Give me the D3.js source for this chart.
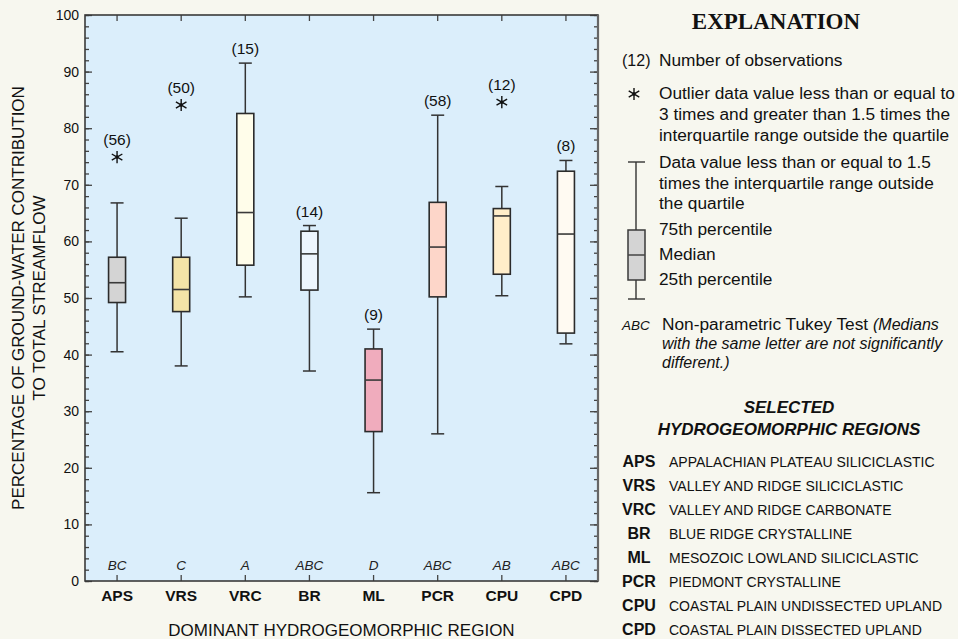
<!DOCTYPE html>
<html>
<head>
<meta charset="utf-8">
<script src="https://cdn.jsdelivr.net/npm/d3@7"></script>
<style>
  body { margin: 0; background: #f7f7ef; }
  svg { display: block; font-family: "Liberation Sans", Arial, sans-serif; }
</style>
</head>
<body>
<svg id="chart" width="958" height="639"></svg>
<script>
// Values
const regions = ['APS', 'VRS', 'VRC', 'BR', 'ML', 'PCR', 'CPU', 'CPD'];
const counts = [56, 50, 15, 14, 9, 58, 12, 8];
const whiskerLow = [40.5, 38.0, 50.2, 37.1, 15.6, 26.0, 50.4, 41.9];
const q1 = [49.2, 47.6, 55.8, 51.4, 26.4, 50.2, 54.2, 43.8];
const median = [52.7, 51.5, 65.1, 57.8, 35.5, 59.0, 64.5, 61.3];
const q3 = [57.2, 57.2, 82.6, 61.8, 41.0, 66.9, 65.8, 72.4];
const whiskerHigh = [66.8, 64.1, 91.5, 62.8, 44.5, 82.3, 69.7, 74.3];
const outliers = [74.9, 84.1, null, null, null, null, 84.6, null];
const tukey = ['BC', 'C', 'A', 'ABC', 'D', 'ABC', 'AB', 'ABC'];
const fills = ['#d4d4d4', '#f4e4a7', '#fffdea', '#edf5fd', '#f0acbd', '#fdd6c9', '#ffedc9', '#fffaf2'];
const regionNames = [
  'APPALACHIAN PLATEAU SILICICLASTIC',
  'VALLEY AND RIDGE SILICICLASTIC',
  'VALLEY AND RIDGE CARBONATE',
  'BLUE RIDGE CRYSTALLINE',
  'MESOZOIC LOWLAND SILICICLASTIC',
  'PIEDMONT CRYSTALLINE',
  'COASTAL PLAIN UNDISSECTED UPLAND',
  'COASTAL PLAIN DISSECTED UPLAND',
];
const yMajorTicks = [0, 10, 20, 30, 40, 50, 60, 70, 80, 90, 100];

const plot = { left: 85, right: 598, top: 15, bottom: 581 };
const boxWidth = 17;
const capWidth = 13;
const ink = '#333';

const svg = d3.select('#chart');

const x = d3.scaleBand()
  .domain(regions)
  .range([plot.left, plot.right]);

const y = d3.scaleLinear()
  .domain([0, 100])
  .range([plot.bottom, plot.top]);

const rows = regions.map((r, i) => ({
  region: r,
  n: counts[i],
  lo: whiskerLow[i],
  q1: q1[i],
  med: median[i],
  q3: q3[i],
  hi: whiskerHigh[i],
  out: outliers[i],
  letter: tukey[i],
  fill: fills[i],
}));

// plot background
svg.append('rect')
  .attr('x', plot.left)
  .attr('y', plot.top)
  .attr('width', plot.right - plot.left)
  .attr('height', plot.bottom - plot.top)
  .attr('fill', '#dbeefb');

// axes: all ticks point inward
function styleAxis(g) {
  g.selectAll('.tick line').attr('stroke', '#444').attr('stroke-width', 1.3);
  g.select('.domain').remove();
}

const minorTicks = d3.range(0, 101, 2);

svg.append('g')
  .attr('transform', `translate(${plot.left},0)`)
  .call(d3.axisLeft(y).tickValues(minorTicks).tickSize(-4).tickFormat(''))
  .call(styleAxis);

svg.append('g')
  .attr('transform', `translate(${plot.left},0)`)
  .call(d3.axisLeft(y).tickValues(yMajorTicks).tickSize(-7).tickPadding(6))
  .call(styleAxis)
  .call(g => g.selectAll('text')
    .attr('fill', '#111')
    .style('font-size', '14px')
    .style('font-family', '"Liberation Sans", Arial, sans-serif'));

svg.append('g')
  .attr('transform', `translate(${plot.right},0)`)
  .call(d3.axisRight(y).tickValues(minorTicks).tickSize(-4).tickFormat(''))
  .call(styleAxis);

svg.append('g')
  .attr('transform', `translate(${plot.right},0)`)
  .call(d3.axisRight(y).tickValues(yMajorTicks).tickSize(-8).tickFormat(''))
  .call(styleAxis);

svg.append('g')
  .attr('transform', `translate(0,${plot.top})`)
  .call(d3.axisTop(x).tickSize(-6).tickFormat(''))
  .call(styleAxis);

svg.append('g')
  .attr('transform', `translate(0,${plot.bottom})`)
  .call(d3.axisBottom(x).tickSize(-6).tickPadding(9))
  .call(styleAxis)
  .call(g => g.selectAll('text')
    .attr('fill', '#111')
    .style('font-size', '15.5px')
    .style('font-weight', 'bold')
    .style('font-family', '"Liberation Sans", Arial, sans-serif'));

// frame
svg.append('rect')
  .attr('x', plot.left)
  .attr('y', plot.top)
  .attr('width', plot.right - plot.left)
  .attr('height', plot.bottom - plot.top)
  .attr('fill', 'none')
  .attr('stroke', '#3a3a3a')
  .attr('stroke-width', 1.6);
svg.append('line')
  .attr('x1', plot.right).attr('x2', plot.right)
  .attr('y1', plot.top).attr('y2', plot.bottom)
  .attr('stroke', '#666')
  .attr('stroke-width', 2.2);

// boxes
const cx = d => x(d.region) + x.bandwidth() / 2;
const asterisk = d3.symbol().type(d3.symbolAsterisk).size(105);

function drawStar(sel) {
  sel.append('path')
    .attr('d', asterisk)
    .attr('fill', 'none')
    .attr('stroke', '#111')
    .attr('stroke-width', 1.4);
  sel.append('circle')
    .attr('r', 1.7)
    .attr('fill', '#111');
}

const box = svg.append('g')
  .selectAll('g')
  .data(rows)
  .join('g');

box.append('line')
  .attr('x1', cx).attr('x2', cx)
  .attr('y1', d => y(d.lo)).attr('y2', d => y(d.hi))
  .attr('stroke', ink).attr('stroke-width', 1.5);

box.append('line')
  .attr('x1', d => cx(d) - capWidth / 2).attr('x2', d => cx(d) + capWidth / 2)
  .attr('y1', d => y(d.hi)).attr('y2', d => y(d.hi))
  .attr('stroke', ink).attr('stroke-width', 1.5);

box.append('line')
  .attr('x1', d => cx(d) - capWidth / 2).attr('x2', d => cx(d) + capWidth / 2)
  .attr('y1', d => y(d.lo)).attr('y2', d => y(d.lo))
  .attr('stroke', ink).attr('stroke-width', 1.5);

box.append('rect')
  .attr('x', d => cx(d) - boxWidth / 2)
  .attr('width', boxWidth)
  .attr('y', d => y(d.q3))
  .attr('height', d => y(d.q1) - y(d.q3))
  .attr('fill', d => d.fill)
  .attr('stroke', '#2b2b2b')
  .attr('stroke-width', 1.6);

box.append('line')
  .attr('x1', d => cx(d) - boxWidth / 2).attr('x2', d => cx(d) + boxWidth / 2)
  .attr('y1', d => y(d.med)).attr('y2', d => y(d.med))
  .attr('stroke', '#3a3a3a').attr('stroke-width', 1.6);

box.filter(d => d.out !== null)
  .append('g')
  .attr('transform', d => `translate(${cx(d)},${y(d.out)})`)
  .call(drawStar);

// number of observations above the top mark
box.append('text')
  .attr('x', cx)
  .attr('y', d => (d.out !== null ? y(d.out) - 12 : y(d.hi) - 9))
  .attr('text-anchor', 'middle')
  .style('font-size', '15.5px')
  .attr('fill', '#111')
  .text(d => `(${d.n})`);

// Tukey letters
box.append('text')
  .attr('x', cx)
  .attr('y', 570)
  .attr('text-anchor', 'middle')
  .style('font-size', '13.5px')
  .style('font-style', 'italic')
  .attr('fill', '#222')
  .text(d => d.letter);

// axis titles
const midY = (plot.top + plot.bottom) / 2;
svg.append('text')
  .attr('transform', `translate(24,${midY}) rotate(-90)`)
  .attr('text-anchor', 'middle')
  .style('font-size', '17px')
  .attr('fill', '#111')
  .text('PERCENTAGE OF GROUND-WATER CONTRIBUTION');
svg.append('text')
  .attr('transform', `translate(45,${midY}) rotate(-90)`)
  .attr('text-anchor', 'middle')
  .style('font-size', '17px')
  .attr('fill', '#111')
  .text('TO TOTAL STREAMFLOW');

svg.append('text')
  .attr('x', (plot.left + plot.right) / 2)
  .attr('y', 636)
  .attr('text-anchor', 'middle')
  .style('font-size', '17px')
  .attr('fill', '#111')
  .text('DOMINANT HYDROGEOMORPHIC REGION');

// ---- explanation ----
const legend = svg.append('g').attr('fill', '#111');
const textX = 659;

legend.append('text')
  .attr('x', 776).attr('y', 29)
  .attr('text-anchor', 'middle')
  .style('font-family', '"Liberation Serif", "Times New Roman", serif')
  .style('font-weight', 'bold')
  .style('font-size', '23px')
  .text('EXPLANATION');

function textLines(lines, x0, y0, step, size, italic) {
  lines.forEach((t, i) => {
    legend.append('text')
      .attr('x', x0).attr('y', y0 + i * step)
      .style('font-size', size)
      .style('font-style', italic ? 'italic' : 'normal')
      .text(t);
  });
}

legend.append('text')
  .attr('x', 622).attr('y', 66)
  .style('font-size', '16px')
  .text('(12)');
textLines(['Number of observations'], textX, 66, 0, '17.3px');

legend.append('g')
  .attr('transform', 'translate(634,94)')
  .call(drawStar);
textLines([
  'Outlier data value less than or equal to',
  '3 times and greater than 1.5 times the',
  'interquartile range outside the quartile',
], textX, 99, 20.8, '17.3px');

textLines([
  'Data value less than or equal to 1.5',
  'times the interquartile range outside',
  'the quartile',
], textX, 168, 20.6, '17.3px');

textLines(['75th percentile'], textX, 235, 0, '17.3px');
textLines(['Median'], textX, 260, 0, '17.3px');
textLines(['25th percentile'], textX, 285, 0, '17.3px');

// schematic box
const lg = legend.append('g');
lg.append('line').attr('x1', 636).attr('x2', 636).attr('y1', 162).attr('y2', 299)
  .attr('stroke', ink).attr('stroke-width', 1.4);
lg.append('line').attr('x1', 628).attr('x2', 645).attr('y1', 162).attr('y2', 162)
  .attr('stroke', ink).attr('stroke-width', 1.4);
lg.append('line').attr('x1', 628).attr('x2', 645).attr('y1', 299).attr('y2', 299)
  .attr('stroke', ink).attr('stroke-width', 1.4);
lg.append('rect').attr('x', 628).attr('y', 230).attr('width', 17).attr('height', 50)
  .attr('fill', '#d4d4d4').attr('stroke', '#3a3a3a').attr('stroke-width', 1.5);
lg.append('line').attr('x1', 628).attr('x2', 645).attr('y1', 255).attr('y2', 255)
  .attr('stroke', '#444').attr('stroke-width', 1.5);

// Tukey test note
legend.append('text')
  .attr('x', 622).attr('y', 330)
  .style('font-size', '13.5px')
  .style('font-style', 'italic')
  .text('ABC');
const tk = legend.append('text')
  .attr('x', 662).attr('y', 330)
  .style('font-size', '17.3px');
tk.append('tspan').text('Non-parametric Tukey Test ');
tk.append('tspan').style('font-style', 'italic').style('font-size', '16px').text('(Medians');
textLines([
  'with the same letter are not significantly',
  'different.)',
], 662, 349, 19, '16px', true);

// region list
legend.append('text')
  .attr('x', 789).attr('y', 413)
  .attr('text-anchor', 'middle')
  .style('font-size', '17px')
  .style('font-weight', 'bold')
  .style('font-style', 'italic')
  .text('SELECTED');
legend.append('text')
  .attr('x', 789).attr('y', 435)
  .attr('text-anchor', 'middle')
  .style('font-size', '17px')
  .style('font-weight', 'bold')
  .style('font-style', 'italic')
  .text('HYDROGEOMORPHIC REGIONS');

const list = legend.append('g')
  .selectAll('g')
  .data(regions)
  .join('g')
  .attr('transform', (d, i) => `translate(0,${467 + i * 24})`);

list.append('text')
  .attr('x', 639)
  .attr('text-anchor', 'middle')
  .style('font-size', '16px')
  .style('font-weight', 'bold')
  .text(d => d);

list.append('text')
  .attr('x', 669)
  .style('font-size', '14px')
  .text((d, i) => regionNames[i]);
</script>
</body>
</html>
